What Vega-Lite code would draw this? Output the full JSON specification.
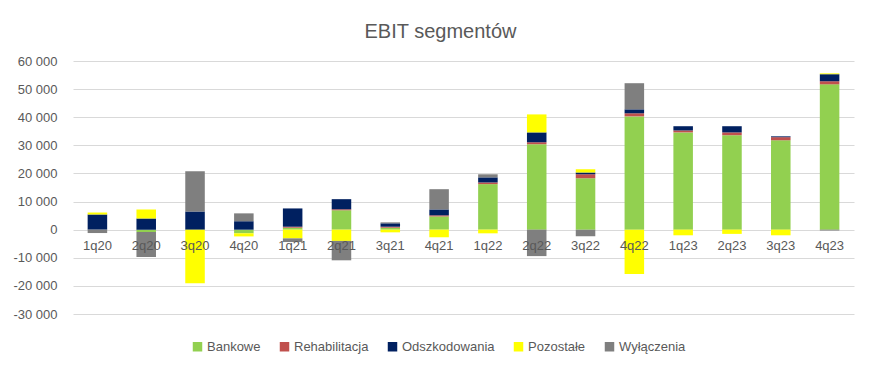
{
  "$schema": "https://vega.github.io/schema/vega-lite/v6.json",
  "width": 781,
  "height": 253,
  "autosize": {"type": "none"},
  "padding": {"left": 73, "top": 61, "right": 27, "bottom": 57},
  "background": "white",
  "title": {
    "text": "EBIT segmentów",
    "fontSize": 20,
    "font": "Liberation Sans",
    "fontWeight": "normal",
    "color": "#595959",
    "anchor": "middle",
    "dx": -23,
    "offset": 13
  },
  "data": {
    "values": [
      {"q": "1q20", "s": "Odszkodowania", "o": 3, "v": 5400},
      {"q": "1q20", "s": "Pozostałe", "o": 4, "v": 700},
      {"q": "1q20", "s": "Wyłączenia", "o": 5, "v": -1200},
      {"q": "2q20", "s": "Bankowe", "o": 1, "v": -800},
      {"q": "2q20", "s": "Odszkodowania", "o": 3, "v": 4000},
      {"q": "2q20", "s": "Pozostałe", "o": 4, "v": 3200},
      {"q": "2q20", "s": "Wyłączenia", "o": 5, "v": -8900},
      {"q": "3q20", "s": "Odszkodowania", "o": 3, "v": 6500},
      {"q": "3q20", "s": "Pozostałe", "o": 4, "v": -19100},
      {"q": "3q20", "s": "Wyłączenia", "o": 5, "v": 14300},
      {"q": "4q20", "s": "Bankowe", "o": 1, "v": -1300},
      {"q": "4q20", "s": "Odszkodowania", "o": 3, "v": 3000},
      {"q": "4q20", "s": "Pozostałe", "o": 4, "v": -1100},
      {"q": "4q20", "s": "Wyłączenia", "o": 5, "v": 2800},
      {"q": "1q21", "s": "Bankowe", "o": 1, "v": 700},
      {"q": "1q21", "s": "Rehabilitacja", "o": 2, "v": 350},
      {"q": "1q21", "s": "Odszkodowania", "o": 3, "v": 6500},
      {"q": "1q21", "s": "Pozostałe", "o": 4, "v": -3100},
      {"q": "1q21", "s": "Wyłączenia", "o": 5, "v": -1300},
      {"q": "2q21", "s": "Bankowe", "o": 1, "v": 6900},
      {"q": "2q21", "s": "Rehabilitacja", "o": 2, "v": 350},
      {"q": "2q21", "s": "Odszkodowania", "o": 3, "v": 3600},
      {"q": "2q21", "s": "Pozostałe", "o": 4, "v": -4000},
      {"q": "2q21", "s": "Wyłączenia", "o": 5, "v": -6900},
      {"q": "3q21", "s": "Bankowe", "o": 1, "v": 700},
      {"q": "3q21", "s": "Rehabilitacja", "o": 2, "v": 350},
      {"q": "3q21", "s": "Odszkodowania", "o": 3, "v": 1200},
      {"q": "3q21", "s": "Pozostałe", "o": 4, "v": -950},
      {"q": "3q21", "s": "Wyłączenia", "o": 5, "v": 350},
      {"q": "4q21", "s": "Bankowe", "o": 1, "v": 4700},
      {"q": "4q21", "s": "Rehabilitacja", "o": 2, "v": 400},
      {"q": "4q21", "s": "Odszkodowania", "o": 3, "v": 2100},
      {"q": "4q21", "s": "Pozostałe", "o": 4, "v": -2700},
      {"q": "4q21", "s": "Wyłączenia", "o": 5, "v": 7200},
      {"q": "1q22", "s": "Bankowe", "o": 1, "v": 16200},
      {"q": "1q22", "s": "Rehabilitacja", "o": 2, "v": 600},
      {"q": "1q22", "s": "Odszkodowania", "o": 3, "v": 1800},
      {"q": "1q22", "s": "Pozostałe", "o": 4, "v": -1300},
      {"q": "1q22", "s": "Wyłączenia", "o": 5, "v": 1100},
      {"q": "2q22", "s": "Bankowe", "o": 1, "v": 30400},
      {"q": "2q22", "s": "Rehabilitacja", "o": 2, "v": 700},
      {"q": "2q22", "s": "Odszkodowania", "o": 3, "v": 3500},
      {"q": "2q22", "s": "Pozostałe", "o": 4, "v": 6400},
      {"q": "2q22", "s": "Wyłączenia", "o": 5, "v": -9400},
      {"q": "3q22", "s": "Bankowe", "o": 1, "v": 18300},
      {"q": "3q22", "s": "Rehabilitacja", "o": 2, "v": 1400},
      {"q": "3q22", "s": "Odszkodowania", "o": 3, "v": 600},
      {"q": "3q22", "s": "Pozostałe", "o": 4, "v": 1200},
      {"q": "3q22", "s": "Wyłączenia", "o": 5, "v": -2300},
      {"q": "4q22", "s": "Bankowe", "o": 1, "v": 40300},
      {"q": "4q22", "s": "Rehabilitacja", "o": 2, "v": 1100},
      {"q": "4q22", "s": "Odszkodowania", "o": 3, "v": 1400},
      {"q": "4q22", "s": "Pozostałe", "o": 4, "v": -15800},
      {"q": "4q22", "s": "Wyłączenia", "o": 5, "v": 9300},
      {"q": "1q23", "s": "Bankowe", "o": 1, "v": 34600},
      {"q": "1q23", "s": "Rehabilitacja", "o": 2, "v": 700},
      {"q": "1q23", "s": "Odszkodowania", "o": 3, "v": 1500},
      {"q": "1q23", "s": "Pozostałe", "o": 4, "v": -2000},
      {"q": "2q23", "s": "Bankowe", "o": 1, "v": 33600},
      {"q": "2q23", "s": "Rehabilitacja", "o": 2, "v": 1000},
      {"q": "2q23", "s": "Odszkodowania", "o": 3, "v": 2200},
      {"q": "2q23", "s": "Pozostałe", "o": 4, "v": -1500},
      {"q": "3q23", "s": "Bankowe", "o": 1, "v": 31800},
      {"q": "3q23", "s": "Rehabilitacja", "o": 2, "v": 1100},
      {"q": "3q23", "s": "Odszkodowania", "o": 3, "v": 300},
      {"q": "3q23", "s": "Pozostałe", "o": 4, "v": -2000},
      {"q": "4q23", "s": "Bankowe", "o": 1, "v": 51700},
      {"q": "4q23", "s": "Rehabilitacja", "o": 2, "v": 1100},
      {"q": "4q23", "s": "Odszkodowania", "o": 3, "v": 2500},
      {"q": "4q23", "s": "Pozostałe", "o": 4, "v": 300},
      {"q": "4q23", "s": "Wyłączenia", "o": 5, "v": -300}
    ]
  },
  "mark": {"type": "bar"},
  "encoding": {
    "x": {
      "field": "q",
      "type": "nominal",
      "sort": null,
      "scale": {"paddingInner": 0.6, "paddingOuter": 0.3},
      "axis": {
        "title": null,
        "orient": "bottom",
        "offset": -84,
        "zindex": 1,
        "labelAngle": 0,
        "domain": false,
        "ticks": false,
        "grid": false,
        "labelPadding": 9,
        "labelFontSize": 13,
        "labelFont": "Liberation Sans",
        "labelColor": "#595959"
      }
    },
    "y": {
      "field": "v",
      "type": "quantitative",
      "stack": "zero",
      "scale": {"domain": [-30000, 60000], "nice": false},
      "axis": {
        "title": null,
        "values": [-30000, -20000, -10000, 0, 10000, 20000, 30000, 40000, 50000, 60000],
        "labelExpr": "datum.value < 0 ? '-' + replace(format(-datum.value, ','), ',', ' ') : replace(format(datum.value, ','), ',', ' ')",
        "domain": false,
        "ticks": false,
        "labelPadding": 16,
        "labelFontSize": 13,
        "labelFont": "Liberation Sans",
        "labelColor": "#595959",
        "gridColor": "#D9D9D9",
        "gridWidth": 1
      }
    },
    "color": {
      "field": "s",
      "type": "nominal",
      "scale": {
        "domain": ["Bankowe", "Rehabilitacja", "Odszkodowania", "Pozostałe", "Wyłączenia"],
        "range": ["#92D050", "#C0504D", "#002060", "#FFFF00", "#7F7F7F"]
      },
      "legend": {
        "title": null,
        "orient": "none",
        "direction": "horizontal",
        "legendX": 118,
        "legendY": 279,
        "symbolType": "square",
        "symbolSize": 90,
        "symbolStrokeWidth": 0,
        "labelFontSize": 13,
        "labelFont": "Liberation Sans",
        "labelColor": "#595959",
        "columnPadding": 17,
        "labelOffset": 3
      }
    },
    "order": {"field": "o", "type": "quantitative"}
  },
  "config": {
    "view": {"stroke": null}
  }
}
